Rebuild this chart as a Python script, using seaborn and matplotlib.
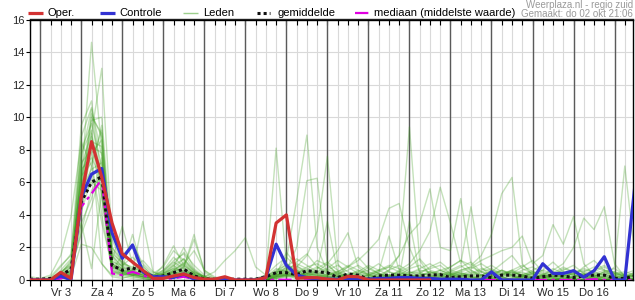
import numpy as np
import pandas as pd
import matplotlib
matplotlib.use("Agg")
import matplotlib.pyplot as plt
from matplotlib.lines import Line2D
import seaborn as sns

# ---------------- data ----------------
day_labels = ["Vr 3", "Za 4", "Zo 5", "Ma 6", "Di 7", "Wo 8", "Do 9", "Vr 10",
              "Za 11", "Zo 12", "Ma 13", "Di 14", "Wo 15", "Do 16"]
yticks = [0, 2, 4, 6, 8, 10, 12, 14, 16]

oper = [0, 0, 0, 0.47, 0.1, 5.1, 8.5, 6.3, 3.5, 1.6,
        1.1, 0.6, 0.1, 0.1, 0.25, 0.37, 0.15, 0.05, 0.05, 0.2,
        0, 0, 0, 0.15, 3.5, 4.0, 0.1, 0.15, 0.14, 0.05,
        0, 0.22, 0.2, 0, 0, 0, 0, 0, 0, 0]

controle = [0, 0, 0, 0.25, 0, 5.1, 6.5, 6.85, 2.9, 1.33,
            2.15, 0.5, 0.2, 0.2, 0.15, 0.37, 0.05, 0, 0, 0.05,
            0, 0, 0, 0.15, 2.2, 0.9, 0.3, 0.15, 0.05, 0.05,
            0.05, 0.05, 0.05, 0.05, 0.1, 0.1, 0.15, 0.15, 0.1, 0.1,
            0.05, 0.05, 0.05, 0, 0, 0.5, 0, 0, 0, 0,
            1.0, 0.4, 0.4, 0.57, 0.17, 0.57, 1.43, 0, 0, 5.9]

gemiddelde = [0.05, 0.05, 0.1, 0.3, 0.65, 4.8, 6.0, 6.35, 0.9, 0.6,
              0.75, 0.5, 0.2, 0.25, 0.45, 0.67, 0.25, 0.06, 0.05, 0.05,
              0.05, 0.05, 0.05, 0.2, 0.45, 0.45, 0.33, 0.57, 0.5, 0.45,
              0.15, 0.37, 0.3, 0.05, 0.25, 0.3, 0.3, 0.25, 0.25, 0.3,
              0.33, 0.15, 0.2, 0.25, 0.25, 0.15, 0.3, 0.3, 0.25, 0.1,
              0.2, 0.3, 0.25, 0.15, 0.25, 0.3, 0.3, 0.1, 0.1, 0.25]

mediaan = [0, 0, 0, 0.1, 0.3, 4.5, 5.3, 6.2, 0.4, 0.3,
           0.5, 0.3, 0.05, 0.05, 0.1, 0.2, 0.05, 0, 0, 0,
           0, 0, 0, 0, 0.02, 0.02, 0.02, 0.05, 0.05, 0.02,
           0, 0.05, 0.05, 0, 0, 0.02, 0.02, 0, 0, 0,
           0.02, 0, 0, 0, 0, 0, 0, 0, 0, 0,
           0, 0, 0, 0, 0, 0.05, 0, 0, 0, 0]

leden = [
    [0, 0, 0.1, 0.5, 1.0, 6.0, 14.6, 8.0, 1.5, 0.8, 0.5, 0.3, 0.1, 0.2, 0.6, 1.0, 0.4, 0, 0, 0,
     0, 0, 0, 0.1, 0.3, 0.5, 0.2, 0.4, 0.3, 0.1, 0, 0.1, 0.2, 0, 0, 0.3, 0.5, 0.2, 0.1, 0,
     0, 0.2, 0.1, 0, 0.3, 0.5, 0.2, 0, 0, 0, 0.1, 0.3, 0.2, 0, 0, 0.2, 0.4, 0.1, 0, 0],
    [0, 0, 0, 0.3, 0.8, 4.0, 9.0, 13.0, 2.5, 1.0, 0.8, 0.5, 0.2, 0.4, 0.9, 0.3, 0.1, 0, 0, 0,
     0, 0, 0, 0, 0.2, 0.8, 0.4, 0.2, 0.1, 0.3, 0.5, 0.2, 0, 0, 0.1, 0.2, 0.1, 0, 0, 0.3,
     0.6, 0.4, 0.2, 0, 0, 0.1, 0.3, 0.6, 0.2, 0, 0, 0, 0.2, 0.5, 0.3, 0.1, 0, 0, 0.2, 0.4],
    [0.1, 0, 0.2, 0.9, 1.5, 9.5, 11.0, 6.0, 1.2, 3.3, 1.0, 0.4, 0.2, 0.1, 0.3, 0.8, 2.8, 0.5, 0, 0,
     0, 0, 0, 0.1, 0.4, 1.0, 0.6, 0.3, 0.2, 0.1, 0, 0, 0.3, 0.8, 0.4, 0, 0, 0, 0.2, 0.5,
     0.3, 0.1, 0, 0, 0, 0.2, 0.6, 0.3, 0, 0, 0, 0.5, 0.3, 0.1, 0, 0, 0.2, 0.3, 0.1, 0],
    [0, 0, 0, 0.2, 0.4, 7.5, 10.5, 5.0, 0.5, 0.4, 0.3, 0.2, 0.1, 0.5, 1.2, 1.6, 0.6, 0.1, 0, 0,
     0, 0, 0, 0.3, 8.1, 1.0, 0.5, 0.6, 0.4, 0.2, 0.1, 0.3, 0.2, 0, 0, 0.1, 0.3, 0.2, 0, 0,
     0.2, 0.4, 0.1, 0, 0, 0, 0.1, 0.3, 0.5, 0.2, 0, 0, 0.1, 0.2, 0.4, 0.2, 0, 0, 0, 0.1],
    [0, 0, 0, 0.1, 0.3, 5.5, 10.0, 9.0, 0.8, 0.5, 0.6, 3.6, 0.5, 0.2, 0.5, 0.9, 0.4, 0.2, 0, 0,
     0, 0, 0, 0, 0.5, 1.2, 4.9, 8.9, 2.0, 0.5, 0.2, 0.1, 0, 0.2, 0.4, 0.2, 0.1, 0, 0.3, 0.1,
     0, 0, 0.3, 0.6, 0.2, 0, 0, 0.2, 0.1, 0, 0.2, 0.4, 0.1, 0, 0, 0.3, 0.5, 0.2, 0, 0],
    [0, 0, 0.1, 0.4, 1.2, 8.0, 9.6, 7.0, 1.0, 0.7, 0.4, 0.2, 0, 0.3, 0.8, 2.0, 0.7, 0.2, 0, 0,
     0, 0, 0.1, 0.2, 0.4, 0.6, 2.0, 6.1, 6.25, 1.0, 0.3, 0.2, 0.1, 0.1, 0.4, 0.2, 0, 0, 0.1, 0.2,
     0.1, 0, 0, 0.2, 0.5, 0.3, 0.1, 0, 0, 0, 0.3, 0.2, 0, 0.1, 0.3, 0.1, 0, 0, 0.2, 0.3],
    [0, 0, 0, 0.2, 0.6, 6.5, 8.5, 8.2, 0.6, 0.3, 0.4, 0.2, 0.1, 0.2, 0.4, 0.6, 0.3, 0.1, 0, 0,
     0, 0, 0, 0.1, 0.3, 0.4, 0.8, 1.5, 3.0, 7.6, 1.0, 0.2, 0.1, 0, 0.1, 0.3, 0.2, 0.1, 0, 0,
     0.1, 0.3, 0.5, 0.2, 0, 0, 0, 0.1, 0.2, 0.4, 0.2, 0, 0, 0, 0.1, 0.3, 0.2, 0.1, 0, 0],
    [0, 0, 0, 0.1, 0.2, 4.5, 7.0, 9.5, 1.0, 0.6, 0.3, 0.1, 0, 0.1, 0.3, 0.5, 0.2, 0, 0, 0,
     0, 0, 0, 0, 0.2, 0.3, 0.2, 0.4, 0.5, 0.3, 0.2, 0.4, 0.3, 0.1, 0.2, 0.6, 1.5, 9.4, 1.2, 0.3,
     0.2, 0.1, 0, 0, 0.1, 0.3, 0.2, 0, 0, 0, 0, 0.1, 0.3, 0.2, 0, 0, 0.1, 0.2, 0.1, 0],
    [0, 0, 0, 0.4, 0.9, 3.5, 5.0, 7.5, 2.0, 1.2, 0.6, 0.3, 0.1, 0.2, 0.2, 0.4, 0.5, 0.2, 0, 0,
     0, 0, 0, 0, 0.1, 0.2, 0.5, 0.3, 0.4, 0.6, 0.5, 0.8, 1.2, 1.8, 2.5, 4.4, 4.7, 2.0, 0.5, 0.2,
     0.1, 0.2, 0.4, 0.3, 0.1, 0, 0, 0, 0.2, 0.4, 0.1, 0, 0, 0.2, 0.5, 0.3, 0.1, 0, 0, 0],
    [0, 0, 0, 0.2, 0.3, 5.0, 6.0, 5.5, 0.4, 0.3, 0.5, 0.9, 0.2, 0.1, 0.2, 0.3, 0.1, 0, 0, 0,
     0, 0, 0, 0, 0.1, 0.3, 0.4, 0.2, 0.1, 0, 0.1, 0.2, 0.1, 0.3, 0.6, 0.8, 1.5, 2.8, 3.5, 5.6,
     2.0, 1.8, 5.0, 1.0, 0.3, 0.1, 0, 0, 0.1, 0.2, 0.3, 0.2, 0, 0, 0, 0.1, 0.3, 0.5, 0.2, 0],
    [0, 0, 0.1, 0.3, 0.7, 2.8, 4.5, 6.8, 1.5, 0.8, 0.4, 0.2, 0.1, 0.4, 0.7, 0.5, 0.2, 0.1, 0, 0,
     0, 0, 0, 0.2, 0.4, 0.3, 0.2, 0.5, 0.8, 0.4, 0.3, 0.2, 0.1, 0, 0, 0.2, 0.6, 1.0, 1.8, 3.0,
     5.7, 3.5, 1.0, 4.5, 0.8, 0.2, 0, 0.1, 0.3, 0.2, 0, 0, 0.2, 0.4, 0.2, 0, 0, 0.1, 0.2, 0.3],
    [0, 0, 0, 0.1, 0.4, 6.8, 7.5, 6.2, 0.9, 0.5, 0.3, 0.4, 0.2, 0.1, 0.2, 0.3, 0.2, 0, 0, 0,
     0, 0, 0, 0.1, 0.2, 0.3, 0.6, 0.2, 0.1, 0.2, 0.3, 0.1, 0, 0.1, 0.2, 0.3, 0.2, 0.1, 0.3, 0.4,
     0.6, 0.8, 1.2, 0.9, 1.5, 2.8, 5.3, 6.3, 1.0, 0.3, 0.2, 0.1, 0, 0.2, 0.4, 0.2, 0, 0, 0, 0.1],
    [0, 0, 0, 0.2, 0.5, 4.2, 6.2, 5.8, 0.7, 0.4, 0.2, 0.1, 0, 0.2, 0.5, 0.7, 0.3, 0.1, 0, 0,
     0, 0, 0, 0, 0.1, 0.2, 0.3, 0.4, 0.3, 0.2, 0.1, 0, 0.2, 0.3, 0.1, 0, 0.1, 0.2, 0.3, 0.5,
     0.4, 0.3, 0.6, 0.8, 1.2, 1.5, 1.8, 2.0, 2.7, 1.0, 1.5, 3.4, 2.2, 3.9, 1.0, 0.3, 0.1, 0, 0, 0],
    [0, 0, 0, 0.1, 0.3, 5.8, 8.2, 7.8, 1.8, 0.9, 0.5, 0.3, 0.2, 0.1, 0.3, 0.6, 0.2, 0, 0, 0,
     0, 0, 0, 0, 0.2, 0.4, 0.2, 0.1, 0.3, 0.5, 0.4, 0.2, 0.1, 0, 0.1, 0.2, 0.4, 0.3, 0.2, 0.1,
     0, 0.1, 0.3, 0.2, 0.1, 0.4, 0.6, 0.3, 0.2, 0.1, 0.3, 0.6, 1.0, 2.0, 3.8, 3.1, 4.5, 1.0, 0.2, 0.1],
    [0, 0, 0, 0.3, 0.6, 3.0, 5.5, 6.5, 0.5, 0.3, 0.2, 0.1, 0, 0.1, 0.4, 0.3, 0.1, 0, 0, 0,
     0, 0, 0, 0, 0.3, 0.5, 0.3, 0.2, 0.1, 0.2, 0.2, 0.3, 0.5, 0.3, 0.1, 0, 0.2, 0.3, 0.2, 0.1,
     0.2, 0.4, 0.3, 0.1, 0, 0.2, 0.4, 0.5, 0.3, 0.2, 0.1, 0.2, 0.3, 0.4, 0.6, 0.5, 0.3, 0.8, 7.0, 1.5],
    [0, 0, 0, 0.2, 0.4, 7.0, 9.0, 4.0, 0.6, 0.4, 0.3, 0.2, 0.1, 0.3, 0.6, 1.1, 0.4, 0.2, 0.5, 1.2,
     1.8, 2.6, 0.8, 0.3, 0.5, 0.6, 0.4, 0.2, 0.5, 1.0, 1.8, 2.9, 0.8, 0.3, 0.2, 0.1, 0, 0.2, 0.4, 0.3,
     0.1, 0, 0.2, 0.5, 0.3, 0.1, 0, 0, 0.2, 0.5, 0.3, 0.1, 0, 0, 0.2, 0.4, 0.3, 0.1, 0, 0],
    [0.2, 0.1, 0.3, 1.5, 3.9, 8.5, 7.0, 3.5, 0.9, 0.6, 0.4, 0.3, 0.2, 0.6, 1.4, 0.8, 0.3, 0.1, 0, 0,
     0, 0, 0, 0.2, 0.6, 0.9, 0.5, 0.3, 0.2, 0.4, 0.2, 0.1, 0, 0.1, 0.3, 0.2, 0.1, 0, 0, 0.2,
     0.4, 0.3, 0.1, 0, 0, 0.1, 0.2, 0.4, 0.3, 0.1, 0, 0, 0.1, 0.3, 0.2, 0, 0, 0.1, 0.3, 0.2],
    [0, 0, 0, 0.1, 0.2, 2.2, 2.0, 1.0, 0.3, 0.2, 0.1, 0, 0, 0.2, 0.4, 0.3, 0.1, 0, 0, 0,
     0, 0, 0, 0.1, 0.3, 0.4, 0.2, 0.1, 0, 0.1, 0.2, 0.1, 0, 0, 0.2, 0.5, 0.3, 0.1, 0, 0,
     0, 0.2, 0.4, 0.2, 0, 0, 0.1, 0.3, 0.2, 0, 0, 0.2, 0.3, 0.1, 0, 0.1, 0.2, 0, 0, 0],
    [0, 0, 0, 0.6, 1.3, 6.0, 10.2, 8.8, 1.2, 0.7, 2.8, 0.6, 0.3, 0.2, 0.5, 0.8, 2.5, 0.6, 0.1, 0,
     0, 0, 0, 0, 0.2, 0.3, 0.6, 0.4, 0.2, 0.1, 0, 0.2, 0.4, 0.2, 0, 0.1, 0.2, 3.6, 0.4, 0.1,
     0, 0.1, 0.2, 0.4, 0.2, 0, 0.2, 0.5, 0.3, 0.1, 0.2, 0.4, 0.2, 0, 0, 0.2, 0.5, 0.3, 0.1, 0],
    [0, 0, 0.1, 0.2, 0.5, 7.2, 8.0, 1.0, 0.2, 0.1, 0.3, 0.5, 0.2, 0.4, 0.9, 1.3, 0.5, 0.2, 0, 0,
     0, 0, 0, 0.1, 0.3, 0.2, 0.1, 0.3, 0.6, 3.6, 0.5, 0.2, 0.1, 0.3, 0.5, 2.7, 0.6, 0.3, 0.1, 0,
     0.1, 0.3, 0.2, 0.1, 0.3, 0.6, 0.4, 0.2, 0.1, 0, 0.1, 0.3, 0.5, 0.3, 0.1, 0, 0, 0.2, 0.3, 0.2],
    [0, 0, 0, 0.3, 0.8, 5.2, 9.8, 10.0, 2.0, 1.0, 0.6, 0.4, 0.2, 0.1, 0.2, 0.5, 0.3, 0.1, 0, 0,
     0, 0, 0, 0, 0.1, 0.4, 0.7, 0.5, 0.3, 0.2, 0.1, 0.3, 0.6, 0.4, 0.2, 0.1, 0.3, 0.5, 0.2, 0.1,
     0.3, 0.5, 0.3, 0.2, 0.1, 0, 0, 0.1, 0.3, 0.5, 0.4, 0.2, 0.1, 0, 0, 0.1, 0.2, 0.4, 0.2, 0.1],
    [0, 0, 0, 0.1, 0.3, 3.5, 0.7, 5.5, 1.0, 0.5, 0.3, 0.2, 0.1, 0.3, 0.5, 0.4, 0.2, 0, 0, 0,
     0, 0, 0, 0, 0.2, 0.3, 0.1, 0, 0.2, 0.3, 0.4, 0.2, 0.1, 0, 0, 0.2, 0.3, 0.1, 0, 0.2,
     0.3, 0.1, 0, 0, 0.1, 0.2, 0.1, 0, 0, 0.2, 0.3, 0.1, 0, 0.2, 0.3, 0.1, 0, 0, 0, 0.1],
    [0, 0, 0, 0.2, 0.6, 5.5, 6.8, 7.2, 1.1, 0.9, 1.4, 0.8, 0.3, 0.5, 1.0, 1.7, 0.9, 0.3, 0.1, 0,
     0, 0, 0.1, 0.3, 0.9, 1.4, 0.8, 0.6, 1.2, 0.9, 0.4, 0.6, 0.9, 0.5, 0.3, 0.6, 0.9, 0.5, 0.4, 0.8,
     1.1, 0.6, 0.4, 0.3, 0.6, 0.9, 0.5, 0.3, 0.6, 0.8, 0.4, 0.3, 0.6, 0.9, 0.4, 0.2, 0.5, 0.7, 0.3, 0.2],
    [0, 0, 0, 0.4, 1.1, 6.2, 8.8, 6.5, 0.6, 1.5, 2.2, 1.0, 0.4, 0.8, 1.8, 1.2, 0.5, 0.2, 0, 0,
     0, 0, 0, 0.2, 0.7, 0.5, 1.1, 1.6, 0.8, 0.5, 0.3, 0.8, 1.4, 0.7, 0.4, 0.2, 0.5, 0.8, 1.3, 0.6,
     0.4, 0.8, 1.2, 0.6, 0.3, 0.5, 1.0, 1.5, 0.7, 0.4, 0.6, 1.1, 0.5, 0.3, 0.8, 1.2, 0.6, 0.3, 0.4, 0.6],
    [0, 0, 0.1, 0.8, 1.6, 7.8, 9.2, 5.2, 0.8, 0.4, 0.6, 1.2, 0.5, 0.3, 0.6, 1.0, 1.8, 0.6, 0.2, 0,
     0, 0, 0, 0.1, 0.4, 0.8, 1.3, 0.9, 0.5, 0.7, 1.2, 0.8, 0.4, 0.6, 1.0, 0.5, 0.3, 0.7, 0.9, 0.4,
     0.2, 0.5, 0.8, 1.1, 0.5, 0.3, 0.6, 0.4, 0.8, 1.2, 0.5, 0.3, 0.7, 0.5, 0.3, 0.6, 0.9, 0.4, 0.2, 0.5],
    [0, 0, 0, 0.3, 0.5, 4.8, 7.8, 8.6, 1.4, 0.6, 0.5, 0.3, 0.2, 0.9, 2.1, 0.9, 0.4, 0.1, 0, 0,
     0, 0, 0, 0, 0.3, 1.7, 0.9, 0.4, 0.7, 1.1, 0.6, 0.3, 0.5, 0.9, 0.6, 0.3, 0.2, 0.4, 0.7, 1.0,
     0.6, 0.3, 0.5, 0.7, 1.0, 0.6, 0.3, 0.5, 0.3, 0.6, 0.9, 0.5, 0.3, 0.4, 0.7, 0.5, 0.8, 0.4, 0.3, 0.4],
    [0, 0, 0, 0.5, 0.9, 6.4, 7.2, 9.2, 1.6, 1.1, 0.7, 0.5, 0.3, 0.4, 0.7, 1.3, 0.6, 0.2, 0, 0,
     0, 0, 0, 0.2, 0.5, 0.7, 0.4, 0.8, 1.0, 0.6, 0.9, 0.5, 0.3, 0.4, 0.6, 0.9, 0.7, 0.4, 0.6, 0.5,
     0.3, 0.6, 0.9, 0.4, 0.7, 0.5, 0.3, 0.6, 0.9, 0.5, 0.3, 0.7, 0.4, 0.6, 0.5, 0.8, 0.6, 0.4, 0.5, 0.3],
    [0, 0, 0, 0.2, 0.4, 8.8, 10.6, 7.6, 0.9, 0.5, 0.3, 0.6, 0.3, 0.6, 1.1, 0.7, 0.3, 0.1, 0, 0,
     0, 0, 0, 0, 0.2, 0.6, 1.0, 0.7, 0.4, 0.3, 0.5, 0.9, 0.6, 0.3, 0.5, 0.8, 0.5, 0.3, 0.5, 0.7,
     0.9, 0.4, 0.6, 0.8, 0.5, 0.7, 0.4, 0.6, 0.4, 0.3, 0.6, 0.4, 0.8, 0.5, 0.3, 0.4, 0.6, 0.5, 0.3, 0.2],
]

# ---------------- build frames ----------------
n = len(controle)
steps = list(range(n))
rows = []
for m, vals in enumerate(leden):
    for i, v in enumerate(vals):
        rows.append((m, i, v))
df_leden = pd.DataFrame(rows, columns=["lid", "stap", "mm"])
df_oper = pd.DataFrame({"stap": list(range(len(oper))), "mm": oper})
df_ctrl = pd.DataFrame({"stap": steps, "mm": controle})
df_mean = pd.DataFrame({"stap": steps, "mm": gemiddelde})
df_med = pd.DataFrame({"stap": steps, "mm": mediaan})

# ---------------- style ----------------
sns.set_style("white")
plt.rcParams["font.family"] = ["Liberation Sans", "DejaVu Sans"]

W, H = 635, 300
fig = plt.figure(figsize=(W / 100, H / 100), dpi=100)
ax_l, ax_r, ax_t, ax_b = 30, 633, 19.5, 280
ax = fig.add_axes([ax_l / W, (H - ax_b) / H, (ax_r - ax_l) / W, (ax_b - ax_t) / H])

XMAX = 58.8
ax.set_xlim(0, XMAX)
ax.set_ylim(0, 16)

# grid
for s in range(0, 60):
    ax.axvline(s, color="#d9d9d9", lw=0.8, zorder=0)
for yv in yticks[1:-1]:
    ax.axhline(yv, color="#d9d9d9", lw=0.8, zorder=0)
for k in range(15):
    ax.axvline(1 + 4 * k, color="#5a5a5a", lw=1.0, zorder=0.5)

green = "#3c9e1c"
sns.lineplot(data=df_leden, x="stap", y="mm", units="lid", estimator=None,
             color=green, alpha=0.3, lw=1.0, ax=ax, legend=False, zorder=2)
sns.lineplot(data=df_med, x="stap", y="mm", color="#e000e0", lw=1.6, ax=ax,
             legend=False, zorder=3, linestyle=(0, (6, 2, 1.5, 2)))
sns.lineplot(data=df_mean, x="stap", y="mm", color="#111111", lw=2.2, ax=ax,
             legend=False, zorder=4, linestyle=(0, (1, 1)), dash_capstyle="butt")
sns.lineplot(data=df_ctrl, x="stap", y="mm", color="#3232d2", lw=2.3, ax=ax,
             legend=False, zorder=5)
sns.lineplot(data=df_oper, x="stap", y="mm", color="#d23232", lw=2.3, ax=ax,
             legend=False, zorder=6)

ax.set_xlabel("")
ax.set_ylabel("")

# ticks
centers = [3 + 4 * k for k in range(len(day_labels))]
ax.set_xticks(centers)
ax.set_xticklabels(day_labels)
ax.set_xticks(list(range(0, 59)), minor=True)
ax.set_yticks(yticks)
ax.set_yticklabels([str(v) for v in yticks])
ax.tick_params(axis="x", which="both", bottom=True, top=False, direction="out",
               length=4, width=0.8, color="black", labelsize=8, pad=2)
ax.tick_params(axis="y", which="both", left=True, direction="out", length=3,
               width=0.8, color="black", labelsize=8, pad=1)
for sp in ax.spines.values():
    sp.set_visible(True)
    sp.set_color("black")
    sp.set_linewidth(1.0)

top = ax.secondary_xaxis("top")
top.set_xticks(list(range(0, 59)))
top.tick_params(axis="x", direction="in", length=4, width=0.8, color="black",
                labeltop=False)
top.spines["top"].set_linewidth(1.0)

# ---------------- legend (manual, figure coords) ----------------
def fx(px):
    return px / W

def fy(py):
    return 1 - py / H

ly = 13
items = [
    (28, 43, "#d23232", 2.3, "-", "Oper.", 47),
    (100, 115, "#3232d2", 2.3, "-", "Controle", 119),
    (183, 198, "#9ccf8c", 1.0, "-", "Leden", 203),
    (257, 270, "#111111", 2.2, (0, (1, 1)), "gemiddelde", 277),
    (355, 369, "#e000e0", 1.6, (0, (6, 2, 1.5, 2)), "mediaan (middelste waarde)", 374),
]
for x0, x1, c, lw, ls, label, tx in items:
    fig.add_artist(Line2D([fx(x0), fx(x1)], [fy(ly), fy(ly)], color=c, lw=lw,
                          linestyle=ls, solid_capstyle="butt", dash_capstyle="butt"))
    fig.text(fx(tx), fy(ly), label, fontsize=8, va="center", ha="left", color="black")

fig.text(fx(633), fy(5), "Weerplaza.nl - regio zuid", fontsize=7, color="#9a9a9a",
         ha="right", va="center")
fig.text(fx(633), fy(14), "Gemaakt: do 02 okt 21:06", fontsize=7, color="#9a9a9a",
         ha="right", va="center")

fig.savefig("out.png", dpi=100, facecolor="white")
